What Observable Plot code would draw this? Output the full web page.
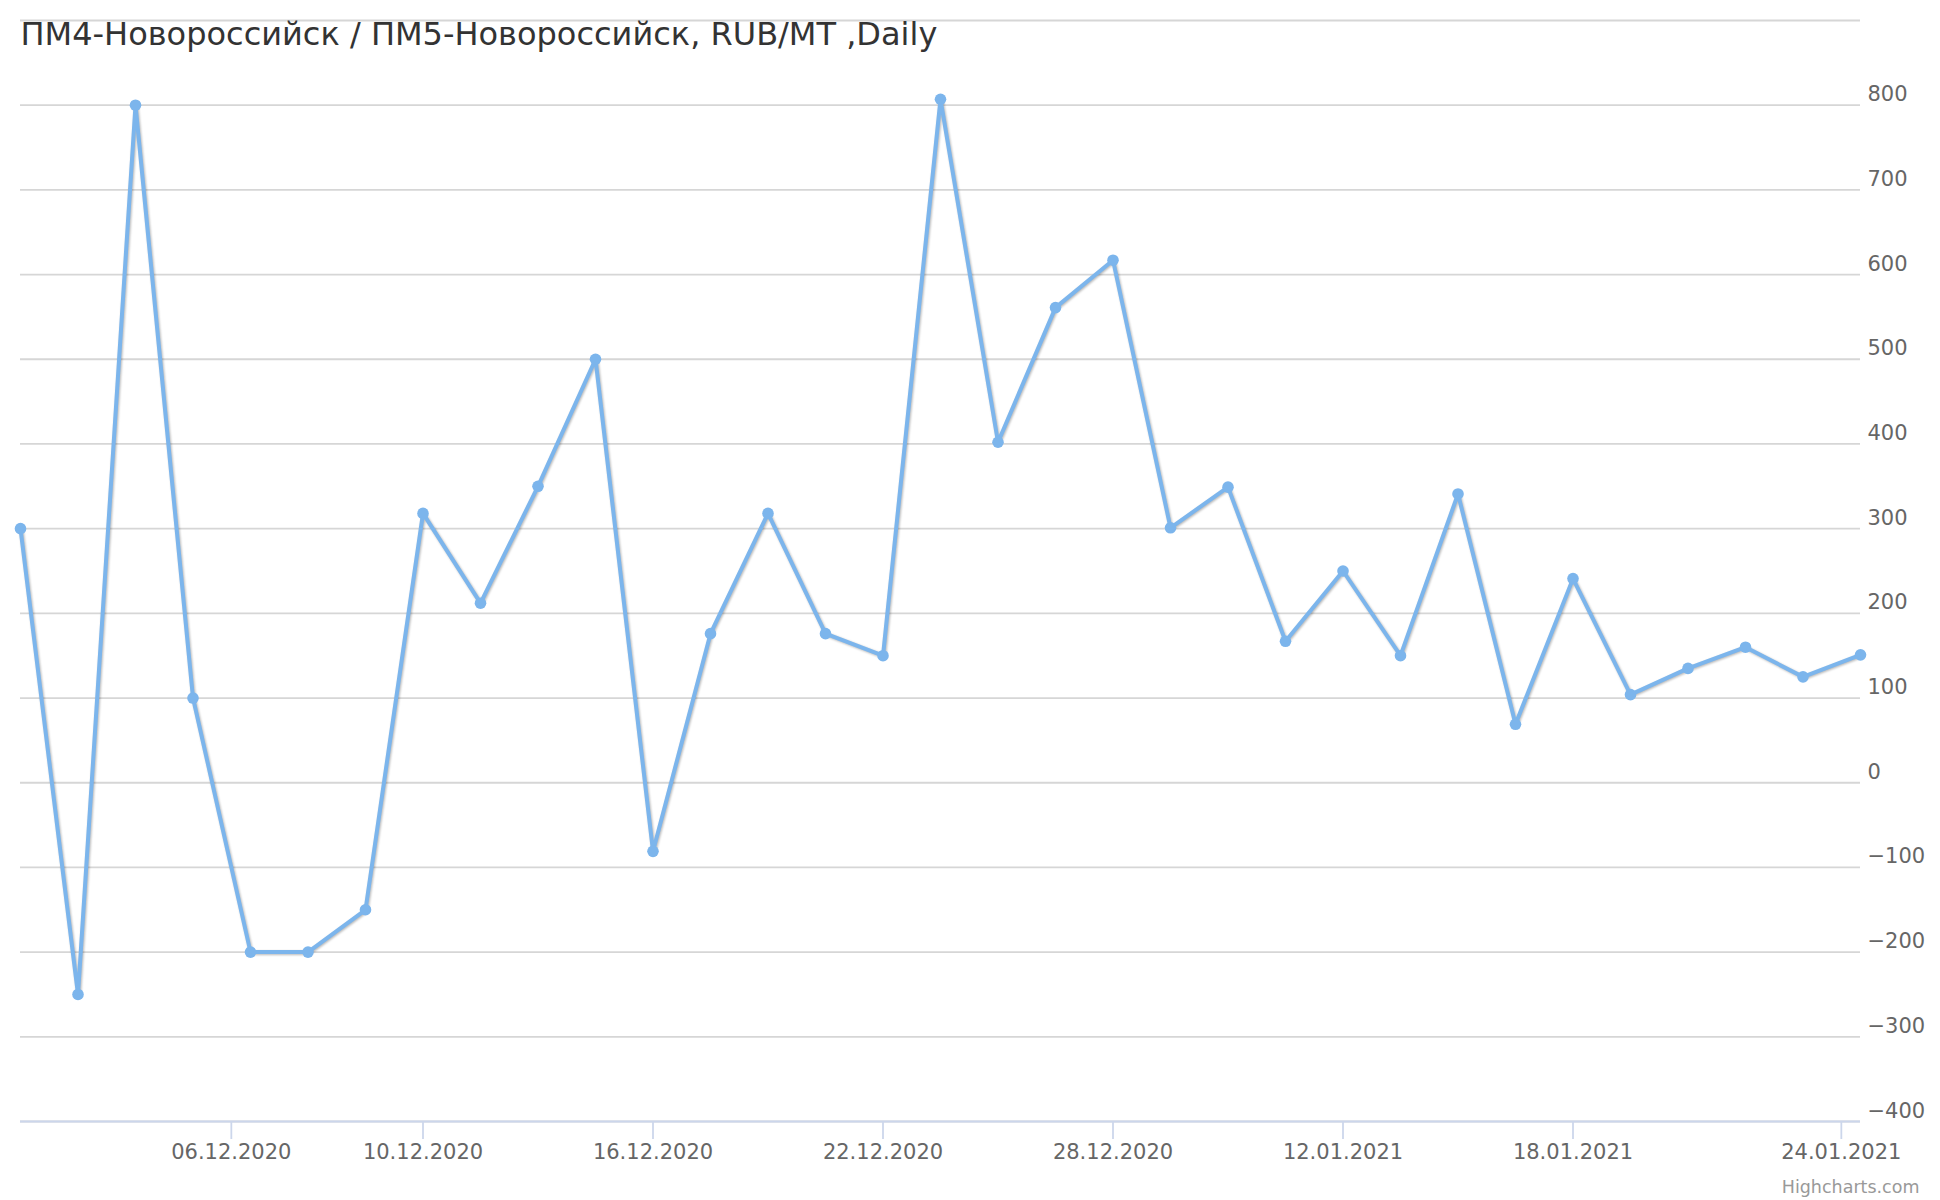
<!DOCTYPE html>
<html>
<head>
<meta charset="utf-8">
<script src="https://cdn.jsdelivr.net/npm/d3@7"></script>
<script src="https://cdn.jsdelivr.net/npm/@observablehq/plot@0.6"></script>
<style>
  html, body { margin: 0; padding: 0; background: #ffffff; }
  #chart svg { display: block; }
  .series-line { filter: drop-shadow(1px 1.5px 1.2px rgba(0,0,0,0.28)); }
</style>
</head>
<body>
<div id="chart"></div>
<script>
// Trading days (ordinal axis: points evenly spaced)
const dates = [
  "01.12.2020","02.12.2020","03.12.2020","04.12.2020","07.12.2020","08.12.2020","09.12.2020","10.12.2020",
  "11.12.2020","14.12.2020","15.12.2020","16.12.2020","17.12.2020","18.12.2020","21.12.2020","22.12.2020",
  "23.12.2020","24.12.2020","25.12.2020","28.12.2020","29.12.2020","30.12.2020","11.01.2021","12.01.2021",
  "13.01.2021","14.01.2021","15.01.2021","18.01.2021","19.01.2021","20.01.2021","21.01.2021","22.01.2021",
  "25.01.2021"
];
const values = [
  300, -250, 800, 100, -200, -200, -150, 318,
  212, 350, 500, -81, 176, 318, 176, 150,
  807, 402, 561, 617, 301, 349, 167, 250,
  150, 341, 69, 241, 104, 135, 160, 125,
  151
];
const xTickLabels = ["06.12.2020","10.12.2020","16.12.2020","22.12.2020","28.12.2020","12.01.2021","18.01.2021","24.01.2021"];
const yGridTicks = [-400,-300,-200,-100,0,100,200,300,400,500,600,700,800,900];
const yLabelTicks = [-400,-300,-200,-100,0,100,200,300,400,500,600,700,800];
const titleText = "ПМ4-Новороссийск / ПМ5-Новороссийск, RUB/MT ,Daily";
const creditText = "Highcharts.com";

const parse = d3.timeParse("%d.%m.%Y");
const times = dates.map(s => parse(s).getTime());
const data = dates.map((d, i) => ({i, date: d, value: values[i]}));

// ordinal position of a calendar date, interpolated between trading days
function ordinalIndex(label) {
  const t = parse(label).getTime();
  for (let k = 0; k < times.length - 1; k++) {
    if (t >= times[k] && t <= times[k + 1]) {
      return k + (t - times[k]) / (times[k + 1] - times[k]);
    }
  }
  return t < times[0] ? 0 : times.length - 1;
}
const xTickPos = xTickLabels.map(ordinalIndex);
const labelByPos = new Map(xTickPos.map((p, k) => [p, xTickLabels[k]]));

const font = "DejaVu Sans, Verdana, sans-serif";

const chart = Plot.plot({
  width: 1940,
  height: 1200,
  marginLeft: 20,
  marginRight: 80,
  marginTop: 20,
  marginBottom: 79,
  style: {fontFamily: font, background: "#ffffff", overflow: "visible"},
  x: {type: "linear", domain: [0, dates.length - 1]},
  y: {domain: [-400, 900]},
  marks: [
    Plot.gridY(yGridTicks, {stroke: "#d6d6d6", strokeOpacity: 1, strokeWidth: 1.8}),
    Plot.axisY(yLabelTicks, {
      anchor: "right", tickSize: 0, tickPadding: 0, dx: 7, dy: -4,
      textAnchor: "start", lineAnchor: "bottom",
      fontSize: 21, fill: "#666666", label: null
    }),
    Plot.axisX(xTickPos, {
      anchor: "bottom", tickSize: 18, tickPadding: 5,
      stroke: "#ccd6eb", strokeWidth: 1.8, fill: "#666666",
      fontSize: 21, label: null,
      tickFormat: p => labelByPos.get(p)
    }),
    Plot.ruleY([-400], {stroke: "#ccd6eb", strokeWidth: 2.2}),
    Plot.line(data, {x: "i", y: "value", stroke: "#7cb5ec", strokeWidth: 4, className: "series-line"}),
    Plot.dot(data, {x: "i", y: "value", r: 5.8, fill: "#7cb5ec", stroke: "none"}),
    Plot.text([titleText], {
      text: d => d, frameAnchor: "top-left", textAnchor: "start", lineAnchor: "top",
      dy: 1.6, fontSize: 32, fill: "#333333"
    }),
    Plot.text([creditText], {
      text: d => d, frameAnchor: "bottom-right", textAnchor: "end", lineAnchor: "bottom",
      dx: 59, dy: 71, fontSize: 17.5, fill: "#999999"
    })
  ]
});
document.getElementById("chart").appendChild(chart);
</script>
</body>
</html>
